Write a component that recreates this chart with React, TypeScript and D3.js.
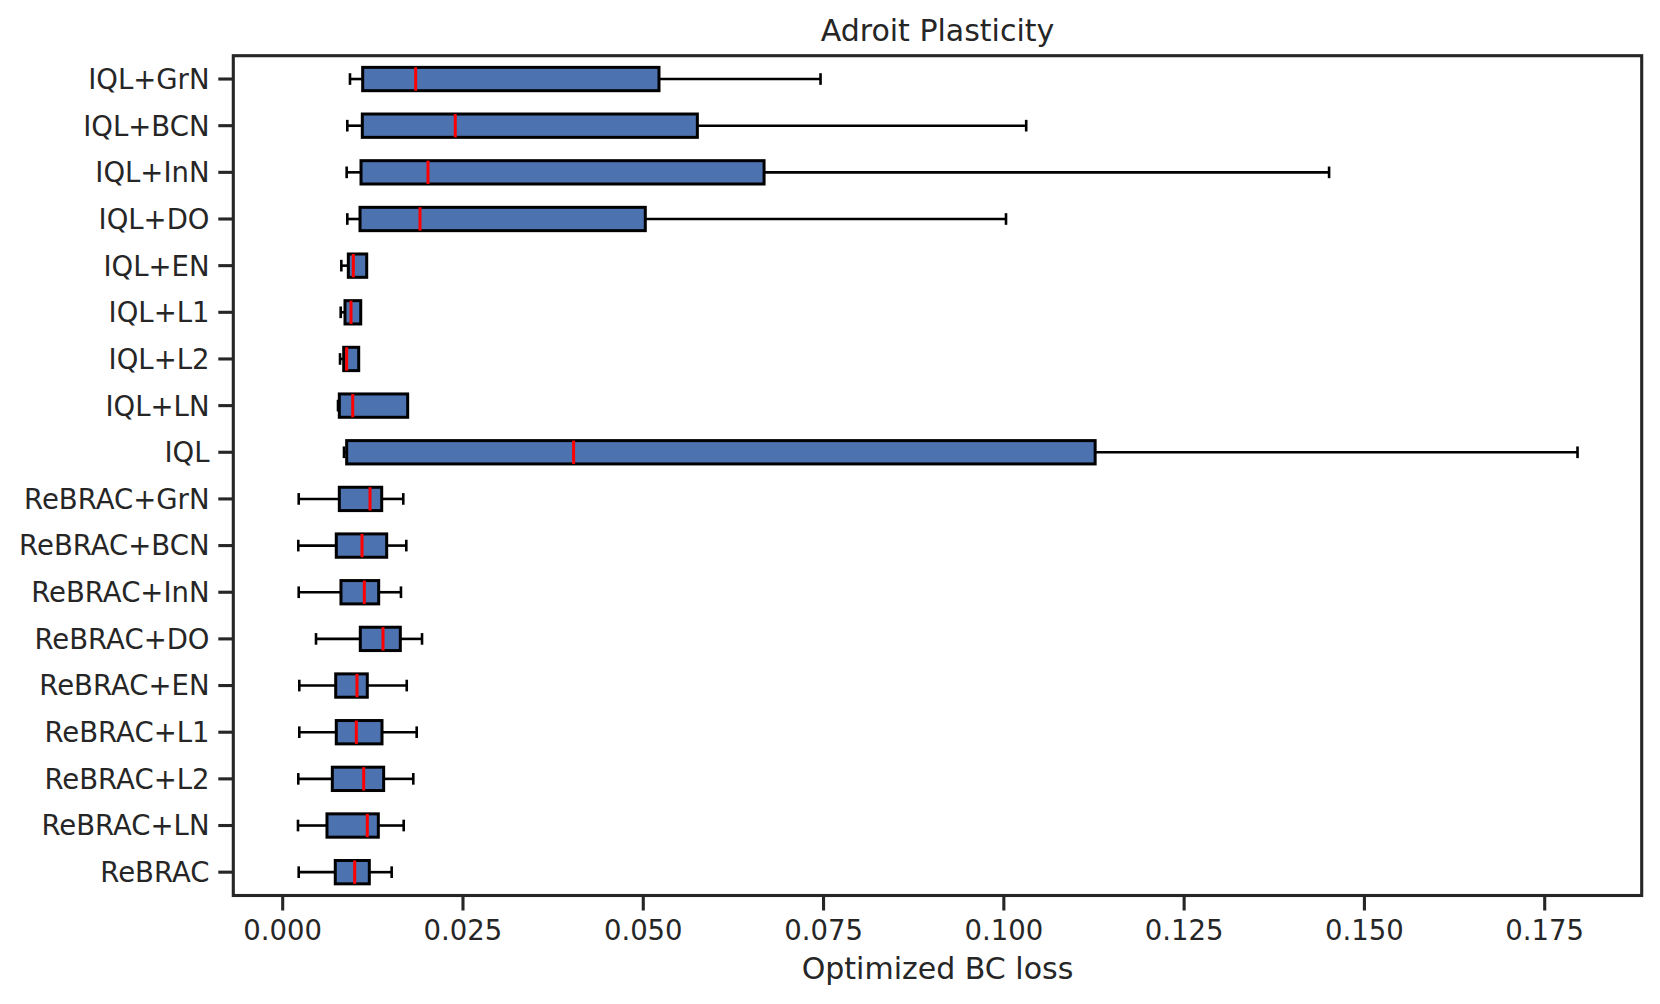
import React from "react";
import * as d3 from "d3";

const categories = [
  "IQL+GrN", "IQL+BCN", "IQL+InN", "IQL+DO", "IQL+EN", "IQL+L1", "IQL+L2", "IQL+LN", "IQL",
  "ReBRAC+GrN", "ReBRAC+BCN", "ReBRAC+InN", "ReBRAC+DO", "ReBRAC+EN", "ReBRAC+L1", "ReBRAC+L2", "ReBRAC+LN", "ReBRAC",
];
const whiskerLow = [0.00933, 0.00896, 0.00887, 0.00896, 0.00813, 0.00804, 0.00795, 0.00767, 0.0085,
  0.00222, 0.00216, 0.00222, 0.00462, 0.0023, 0.0023, 0.00216, 0.00212, 0.00222];
const q1 = [0.01109, 0.01104, 0.01086, 0.01072, 0.0091, 0.00864, 0.00846, 0.00785, 0.00887,
  0.00785, 0.00743, 0.00808, 0.01076, 0.00735, 0.00743, 0.00688, 0.00614, 0.00729];
const median = [0.01844, 0.02393, 0.02015, 0.01904, 0.00979, 0.00947, 0.00887, 0.00971, 0.04034,
  0.01211, 0.011, 0.01132, 0.01391, 0.0103, 0.01021, 0.01123, 0.01173, 0.00998];
const q3 = [0.05218, 0.0575, 0.06675, 0.05028, 0.01165, 0.01082, 0.01054, 0.01733, 0.11266,
  0.01373, 0.01442, 0.01331, 0.01631, 0.01173, 0.01377, 0.014, 0.01326, 0.01201];
const whiskerHigh = [0.07458, 0.1031, 0.1451, 0.1003, 0.01165, 0.01082, 0.01054, 0.01733, 0.17955,
  0.01672, 0.01714, 0.0164, 0.01932, 0.0172, 0.01858, 0.01811, 0.01678, 0.01511];
const xTicks = [0, 0.025, 0.05, 0.075, 0.1, 0.125, 0.15, 0.175];

const title = "Adroit Plasticity";
const xLabel = "Optimized BC loss";

const W = 1660, H = 1004;
const left = 233.3, right = 1641.7, top = 55.7, bottom = 895.5;
const TEXT = "#262626";
const FONT = "'DejaVu Sans', sans-serif";

export default function App() {
  const x = d3.scaleLinear().domain([-0.00685, 0.18845]).range([left, right]);
  const n = categories.length;
  const y = d3.scaleLinear().domain([-0.5, n - 0.5]).range([top, bottom]);
  const unit = (bottom - top) / n;
  const boxH = 0.5 * unit;
  const capH = 0.25 * unit;

  return (
    <div style={{ position: "absolute", left: 0, top: 0 }}>
      <svg width={W} height={H} style={{ display: "block", background: "#fff" }} fontFamily={FONT}>
        <rect x={0} y={0} width={W} height={H} fill="#fff" />
        {categories.map((c, i) => {
          const cy = y(i);
          return (
            <g key={c}>
              <line x1={x(whiskerLow[i])} x2={x(q1[i])} y1={cy} y2={cy} stroke="#000" strokeWidth={2.6} />
              <line x1={x(q3[i])} x2={x(whiskerHigh[i])} y1={cy} y2={cy} stroke="#000" strokeWidth={2.6} />
              <line x1={x(whiskerLow[i])} x2={x(whiskerLow[i])} y1={cy - capH / 2} y2={cy + capH / 2} stroke="#000" strokeWidth={2.6} />
              <line x1={x(whiskerHigh[i])} x2={x(whiskerHigh[i])} y1={cy - capH / 2} y2={cy + capH / 2} stroke="#000" strokeWidth={2.6} />
              <rect x={x(q1[i])} y={cy - boxH / 2} width={x(q3[i]) - x(q1[i])} height={boxH}
                fill="#4c72b0" stroke="#000" strokeWidth={3} />
              <line x1={x(median[i])} x2={x(median[i])} y1={cy - boxH / 2} y2={cy + boxH / 2} stroke="#ff0000" strokeWidth={3} />
            </g>
          );
        })}
        <rect x={left} y={top} width={right - left} height={bottom - top} fill="none" stroke={TEXT} strokeWidth={3.1} />
        {categories.map((c, i) => (
          <g key={"yt" + c}>
            <line x1={left - 15} x2={left} y1={y(i)} y2={y(i)} stroke={TEXT} strokeWidth={3.1} />
            <text x={209.5} y={y(i)} dy="0.36em" textAnchor="end" fontSize={27.5} fill={TEXT}>{c}</text>
          </g>
        ))}
        {xTicks.map((t) => (
          <g key={"xt" + t}>
            <line x1={x(t)} x2={x(t)} y1={bottom} y2={bottom + 15} stroke={TEXT} strokeWidth={3.1} />
            <text x={x(t)} y={940} textAnchor="middle" fontSize={27.5} fill={TEXT}>{t.toFixed(3)}</text>
          </g>
        ))}
        <text x={(left + right) / 2} y={40.7} textAnchor="middle" fontSize={30} fill={TEXT}>{title}</text>
        <text x={(left + right) / 2} y={979} textAnchor="middle" fontSize={30} fill={TEXT}>{xLabel}</text>
      </svg>
    </div>
  );
}
